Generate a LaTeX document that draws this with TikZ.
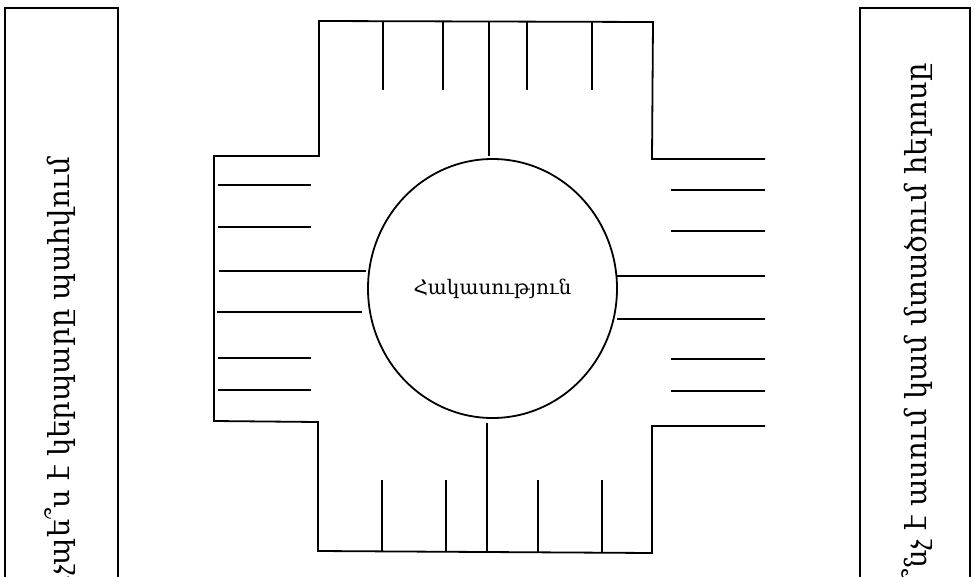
\documentclass[tikz,border=0pt]{standalone}
\usepackage{fontspec}
\setmainfont{DejaVu Serif}
\usetikzlibrary{shapes.geometric}
\tikzset{
  ln/.style={line width=1.8pt, line cap=butt, line join=miter},
  sidetext/.style={rotate=90, anchor=east, inner sep=0pt, font=\fontsize{29}{34}\selectfont},
  core/.style={ellipse, draw, line width=1.8pt, minimum width=249pt, minimum height=259pt, inner sep=0pt, font=\fontsize{20}{24}\selectfont}
}
\begin{document}
\begin{tikzpicture}[x=1pt,y=-1pt]
\useasboundingbox (0,0) rectangle (975,576);
\clip (0,0) rectangle (975,576);
% side boxes
\draw[ln] (5,600) -- (5,8) -- (118,8) -- (118,600);
\draw[ln] (860,600) -- (860,8) -- (970,8) -- (970,600);
\node[sidetext] (lefttext) at (60,157) {Ինչպե՞ս է կերպարը պահվում};
\node[sidetext] (righttext) at (917,63) {Ի՞նչ է ասում կամ մտածում հերոսը};
% central circle
\node[core] (circ) at (492.5,288.5) {Հակասություն};
% cross outline
\draw[ln] (765,159) -- (652,159) -- (653,22) -- (319,21) -- (319,156) -- (214,156)
  -- (214,421) -- (318,422) -- (318,551) -- (652,553) -- (652,426) -- (765,426);
% top arm
\foreach \x in {383,443,527,592} \draw[ln] (\x,22) -- (\x,90);
\coordinate (topin) at (489,156);
\coordinate (botin) at (487,423);
\draw[ln] (489,21) -- (topin);
% bottom arm
\foreach \x in {382,446,538,602} \draw[ln] (\x,480) -- (\x,552);
\draw[ln] (487,552) -- (botin);
% left arm
\foreach \y in {185,227,358,390} \draw[ln] (218,\y) -- (311,\y);
\draw[ln] (219,271) -- (366,271);
\draw[ln] (217,312) -- (362,312);
% right arm
\foreach \y in {190,231,359,391} \draw[ln] (671,\y) -- (765,\y);
\draw[ln] (617,276) -- (765,276);
\draw[ln] (617,319) -- (765,319);
\end{tikzpicture}
\end{document}
